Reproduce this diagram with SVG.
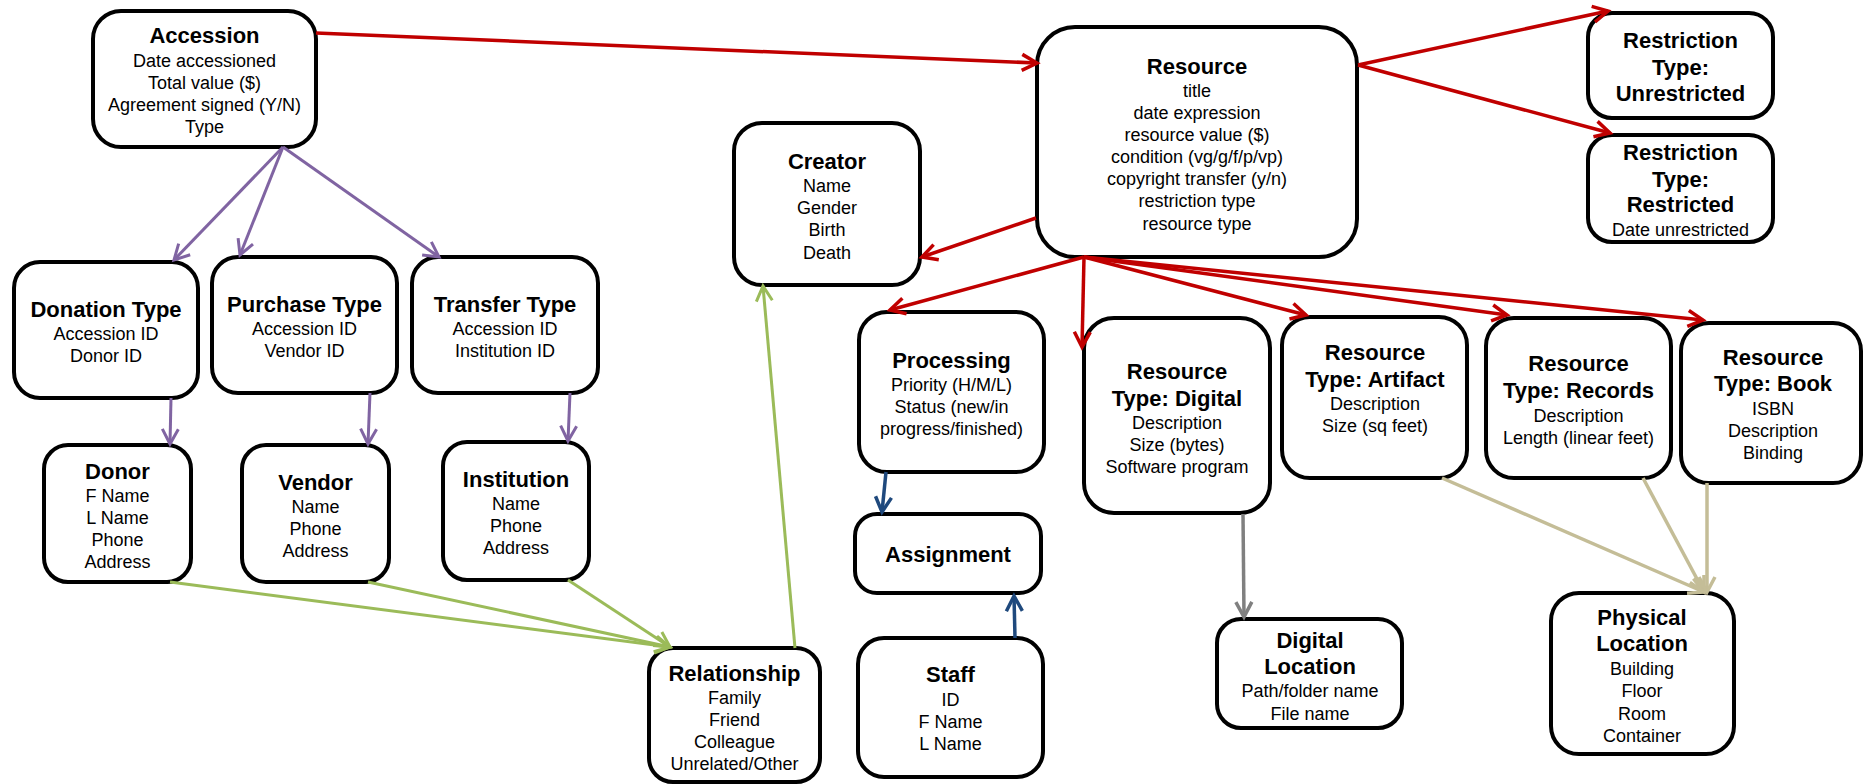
<svg xmlns="http://www.w3.org/2000/svg" width="1864" height="784" viewBox="0 0 1864 784">
<style>
.box{fill:#fff;stroke:#000;stroke-width:4}
text{font-family:"Liberation Sans",Arial,sans-serif;fill:#000;text-anchor:middle}
.h{font-size:22px;font-weight:bold}
.b{font-size:18px}
.red{stroke:#C00000;stroke-width:3.5;fill:none}
.pur{stroke:#8064A2;stroke-width:3;fill:none}
.grn{stroke:#9BBB59;stroke-width:3;fill:none}
.blu{stroke:#1F497D;stroke-width:3.5;fill:none}
.gry{stroke:#808080;stroke-width:3.5;fill:none}
.tan{stroke:#C4BD97;stroke-width:3.5;fill:none}
</style>
<defs>
<marker id="mr" markerUnits="userSpaceOnUse" markerWidth="22" markerHeight="22" refX="18" refY="11" orient="auto"><path d="M3,3 L18,11 L3,19" fill="none" stroke="#C00000" stroke-width="3.5"/></marker>
<marker id="mp" markerUnits="userSpaceOnUse" markerWidth="22" markerHeight="22" refX="18" refY="11" orient="auto"><path d="M3,3 L18,11 L3,19" fill="none" stroke="#8064A2" stroke-width="3"/></marker>
<marker id="mg" markerUnits="userSpaceOnUse" markerWidth="22" markerHeight="22" refX="18" refY="11" orient="auto"><path d="M3,3 L18,11 L3,19" fill="none" stroke="#9BBB59" stroke-width="3"/></marker>
<marker id="mb" markerUnits="userSpaceOnUse" markerWidth="22" markerHeight="22" refX="18" refY="11" orient="auto"><path d="M3,3 L18,11 L3,19" fill="none" stroke="#1F497D" stroke-width="3.5"/></marker>
<marker id="mgy" markerUnits="userSpaceOnUse" markerWidth="22" markerHeight="22" refX="18" refY="11" orient="auto"><path d="M3,3 L18,11 L3,19" fill="none" stroke="#808080" stroke-width="3.5"/></marker>
<marker id="mt" markerUnits="userSpaceOnUse" markerWidth="22" markerHeight="22" refX="18" refY="11" orient="auto"><path d="M3,3 L18,11 L3,19" fill="none" stroke="#C4BD97" stroke-width="3.5"/></marker>
</defs>
<rect width="1864" height="784" fill="#fff"/>

<g id="accession">
<rect class="box" x="93" y="11" width="223" height="136" rx="28"/>
<text class="h" x="204.5" y="43">Accession</text>
<text class="b" x="204.5" y="66.5">Date accessioned</text>
<text class="b" x="204.5" y="88.5">Total value ($)</text>
<text class="b" x="204.5" y="110.5">Agreement signed (Y/N)</text>
<text class="b" x="204.5" y="133">Type</text>
</g>
<g id="donation-type">
<rect class="box" x="14" y="262" width="184" height="136" rx="26"/>
<text class="h" x="106" y="317">Donation Type</text>
<text class="b" x="106" y="339.5">Accession ID</text>
<text class="b" x="106" y="361.5">Donor ID</text>
</g>
<g id="purchase-type">
<rect class="box" x="212" y="257" width="185" height="136" rx="26"/>
<text class="h" x="304.5" y="312">Purchase Type</text>
<text class="b" x="304.5" y="334.5">Accession ID</text>
<text class="b" x="304.5" y="356.5">Vendor ID</text>
</g>
<g id="transfer-type">
<rect class="box" x="412" y="257" width="186" height="136" rx="26"/>
<text class="h" x="505" y="312">Transfer Type</text>
<text class="b" x="505" y="334.5">Accession ID</text>
<text class="b" x="505" y="356.5">Institution ID</text>
</g>
<g id="donor">
<rect class="box" x="44" y="445" width="147" height="137" rx="24"/>
<text class="h" x="117.5" y="479">Donor</text>
<text class="b" x="117.5" y="501.5">F Name</text>
<text class="b" x="117.5" y="523.5">L Name</text>
<text class="b" x="117.5" y="545.5">Phone</text>
<text class="b" x="117.5" y="567.5">Address</text>
</g>
<g id="vendor">
<rect class="box" x="242" y="445" width="147" height="137" rx="24"/>
<text class="h" x="315.5" y="490">Vendor</text>
<text class="b" x="315.5" y="512.5">Name</text>
<text class="b" x="315.5" y="534.5">Phone</text>
<text class="b" x="315.5" y="556.5">Address</text>
</g>
<g id="institution">
<rect class="box" x="443" y="442" width="146" height="138" rx="24"/>
<text class="h" x="516" y="487">Institution</text>
<text class="b" x="516" y="509.5">Name</text>
<text class="b" x="516" y="532">Phone</text>
<text class="b" x="516" y="554">Address</text>
</g>
<g id="creator">
<rect class="box" x="734" y="123" width="186" height="162" rx="28"/>
<text class="h" x="827" y="169">Creator</text>
<text class="b" x="827" y="191.5">Name</text>
<text class="b" x="827" y="214">Gender</text>
<text class="b" x="827" y="236">Birth</text>
<text class="b" x="827" y="258.5">Death</text>
</g>
<g id="resource">
<rect class="box" x="1037" y="27" width="320" height="230" rx="38"/>
<text class="h" x="1197" y="74">Resource</text>
<text class="b" x="1197" y="96.5">title</text>
<text class="b" x="1197" y="118.5">date expression</text>
<text class="b" x="1197" y="140.5">resource value ($)</text>
<text class="b" x="1197" y="162.5">condition (vg/g/f/p/vp)</text>
<text class="b" x="1197" y="185">copyright transfer (y/n)</text>
<text class="b" x="1197" y="207">restriction type</text>
<text class="b" x="1197" y="229.5">resource type</text>
</g>
<g id="restriction-unrestricted">
<rect class="box" x="1588" y="13" width="185" height="105" rx="24"/>
<text class="h" x="1680.5" y="48">Restriction</text>
<text class="h" x="1680.5" y="75">Type:</text>
<text class="h" x="1680.5" y="101">Unrestricted</text>
</g>
<g id="restriction-restricted">
<rect class="box" x="1588" y="135" width="185" height="107" rx="24"/>
<text class="h" x="1680.5" y="160">Restriction</text>
<text class="h" x="1680.5" y="187">Type:</text>
<text class="h" x="1680.5" y="212">Restricted</text>
<text class="b" x="1680.5" y="235.5">Date unrestricted</text>
</g>
<g id="processing">
<rect class="box" x="859" y="312" width="185" height="160" rx="28"/>
<text class="h" x="951.5" y="368">Processing</text>
<text class="b" x="951.5" y="390.5">Priority (H/M/L)</text>
<text class="b" x="951.5" y="412.5">Status (new/in</text>
<text class="b" x="951.5" y="434.5">progress/finished)</text>
</g>
<g id="assignment">
<rect class="box" x="855" y="514" width="186" height="79" rx="22"/>
<text class="h" x="948" y="562">Assignment</text>
</g>
<g id="staff">
<rect class="box" x="858" y="638" width="185" height="139" rx="26"/>
<text class="h" x="950.5" y="682">Staff</text>
<text class="b" x="950.5" y="705.5">ID</text>
<text class="b" x="950.5" y="727.5">F Name</text>
<text class="b" x="950.5" y="749.5">L Name</text>
</g>
<g id="relationship">
<rect class="box" x="649" y="648" width="171" height="134" rx="24"/>
<text class="h" x="734.5" y="681">Relationship</text>
<text class="b" x="734.5" y="704">Family</text>
<text class="b" x="734.5" y="726">Friend</text>
<text class="b" x="734.5" y="748">Colleague</text>
<text class="b" x="734.5" y="770">Unrelated/Other</text>
</g>
<g id="resource-digital">
<rect class="box" x="1084" y="318" width="186" height="195" rx="30"/>
<text class="h" x="1177" y="379">Resource</text>
<text class="h" x="1177" y="406">Type: Digital</text>
<text class="b" x="1177" y="428.5">Description</text>
<text class="b" x="1177" y="450.5">Size (bytes)</text>
<text class="b" x="1177" y="472.5">Software program</text>
</g>
<g id="resource-artifact">
<rect class="box" x="1282" y="317" width="185" height="161" rx="28"/>
<text class="h" x="1375" y="360">Resource</text>
<text class="h" x="1375" y="387">Type: Artifact</text>
<text class="b" x="1375" y="409.5">Description</text>
<text class="b" x="1375" y="431.5">Size (sq feet)</text>
</g>
<g id="resource-records">
<rect class="box" x="1486" y="318" width="185" height="160" rx="28"/>
<text class="h" x="1578.5" y="371">Resource</text>
<text class="h" x="1578.5" y="398">Type: Records</text>
<text class="b" x="1578.5" y="421.5">Description</text>
<text class="b" x="1578.5" y="443.5">Length (linear feet)</text>
</g>
<g id="resource-book">
<rect class="box" x="1681" y="323" width="180" height="160" rx="28"/>
<text class="h" x="1773" y="365">Resource</text>
<text class="h" x="1773" y="391">Type: Book</text>
<text class="b" x="1773" y="414.5">ISBN</text>
<text class="b" x="1773" y="436.5">Description</text>
<text class="b" x="1773" y="458.5">Binding</text>
</g>
<g id="digital-location">
<rect class="box" x="1217" y="619" width="185" height="109" rx="24"/>
<text class="h" x="1310" y="648">Digital</text>
<text class="h" x="1310" y="674">Location</text>
<text class="b" x="1310" y="696.5">Path/folder name</text>
<text class="b" x="1310" y="719.5">File name</text>
</g>
<g id="physical-location">
<rect class="box" x="1551" y="593" width="183" height="161" rx="28"/>
<text class="h" x="1642" y="625">Physical</text>
<text class="h" x="1642" y="651">Location</text>
<text class="b" x="1642" y="674.5">Building</text>
<text class="b" x="1642" y="696.5">Floor</text>
<text class="b" x="1642" y="719.5">Room</text>
<text class="b" x="1642" y="741.5">Container</text>
</g>

<g id="connectors">
<line class="red" x1="316" y1="33" x2="1037" y2="63" marker-end="url(#mr)"/>
<line class="red" x1="1036" y1="218" x2="922" y2="257" marker-end="url(#mr)"/>
<line class="red" x1="1358" y1="65" x2="1608" y2="11" marker-end="url(#mr)"/>
<line class="red" x1="1358" y1="65" x2="1610" y2="133" marker-end="url(#mr)"/>
<line class="red" x1="1084" y1="257" x2="890" y2="310" marker-end="url(#mr)"/>
<line class="red" x1="1084" y1="257" x2="1082" y2="347" marker-end="url(#mr)"/>
<line class="red" x1="1084" y1="257" x2="1306" y2="315" marker-end="url(#mr)"/>
<line class="red" x1="1084" y1="257" x2="1507" y2="315" marker-end="url(#mr)"/>
<line class="red" x1="1084" y1="257" x2="1703" y2="320" marker-end="url(#mr)"/>
<line class="pur" x1="283" y1="147" x2="174" y2="260" marker-end="url(#mp)"/>
<line class="pur" x1="283" y1="147" x2="240" y2="255" marker-end="url(#mp)"/>
<line class="pur" x1="283" y1="147" x2="439" y2="257" marker-end="url(#mp)"/>
<line class="pur" x1="171" y1="398" x2="170" y2="444" marker-end="url(#mp)"/>
<line class="pur" x1="370" y1="393" x2="368" y2="444" marker-end="url(#mp)"/>
<line class="pur" x1="570" y1="393" x2="568" y2="441" marker-end="url(#mp)"/>
<line class="grn" x1="170" y1="582" x2="670" y2="647" marker-end="url(#mg)"/>
<line class="grn" x1="368" y1="582" x2="670" y2="647" marker-end="url(#mg)"/>
<line class="grn" x1="568" y1="580" x2="670" y2="647" marker-end="url(#mg)"/>
<line class="grn" x1="795" y1="648" x2="763" y2="286" marker-end="url(#mg)"/>
<line class="blu" x1="886" y1="472" x2="882" y2="512" marker-end="url(#mb)"/>
<line class="blu" x1="1015" y1="638" x2="1014" y2="596" marker-end="url(#mb)"/>
<line class="gry" x1="1243" y1="514" x2="1244" y2="617" marker-end="url(#mgy)"/>
<line class="tan" x1="1442" y1="478" x2="1704" y2="592" marker-end="url(#mt)"/>
<line class="tan" x1="1643" y1="478" x2="1704" y2="592" marker-end="url(#mt)"/>
<line class="tan" x1="1707" y1="483" x2="1707" y2="592" marker-end="url(#mt)"/>
</g>
</svg>
